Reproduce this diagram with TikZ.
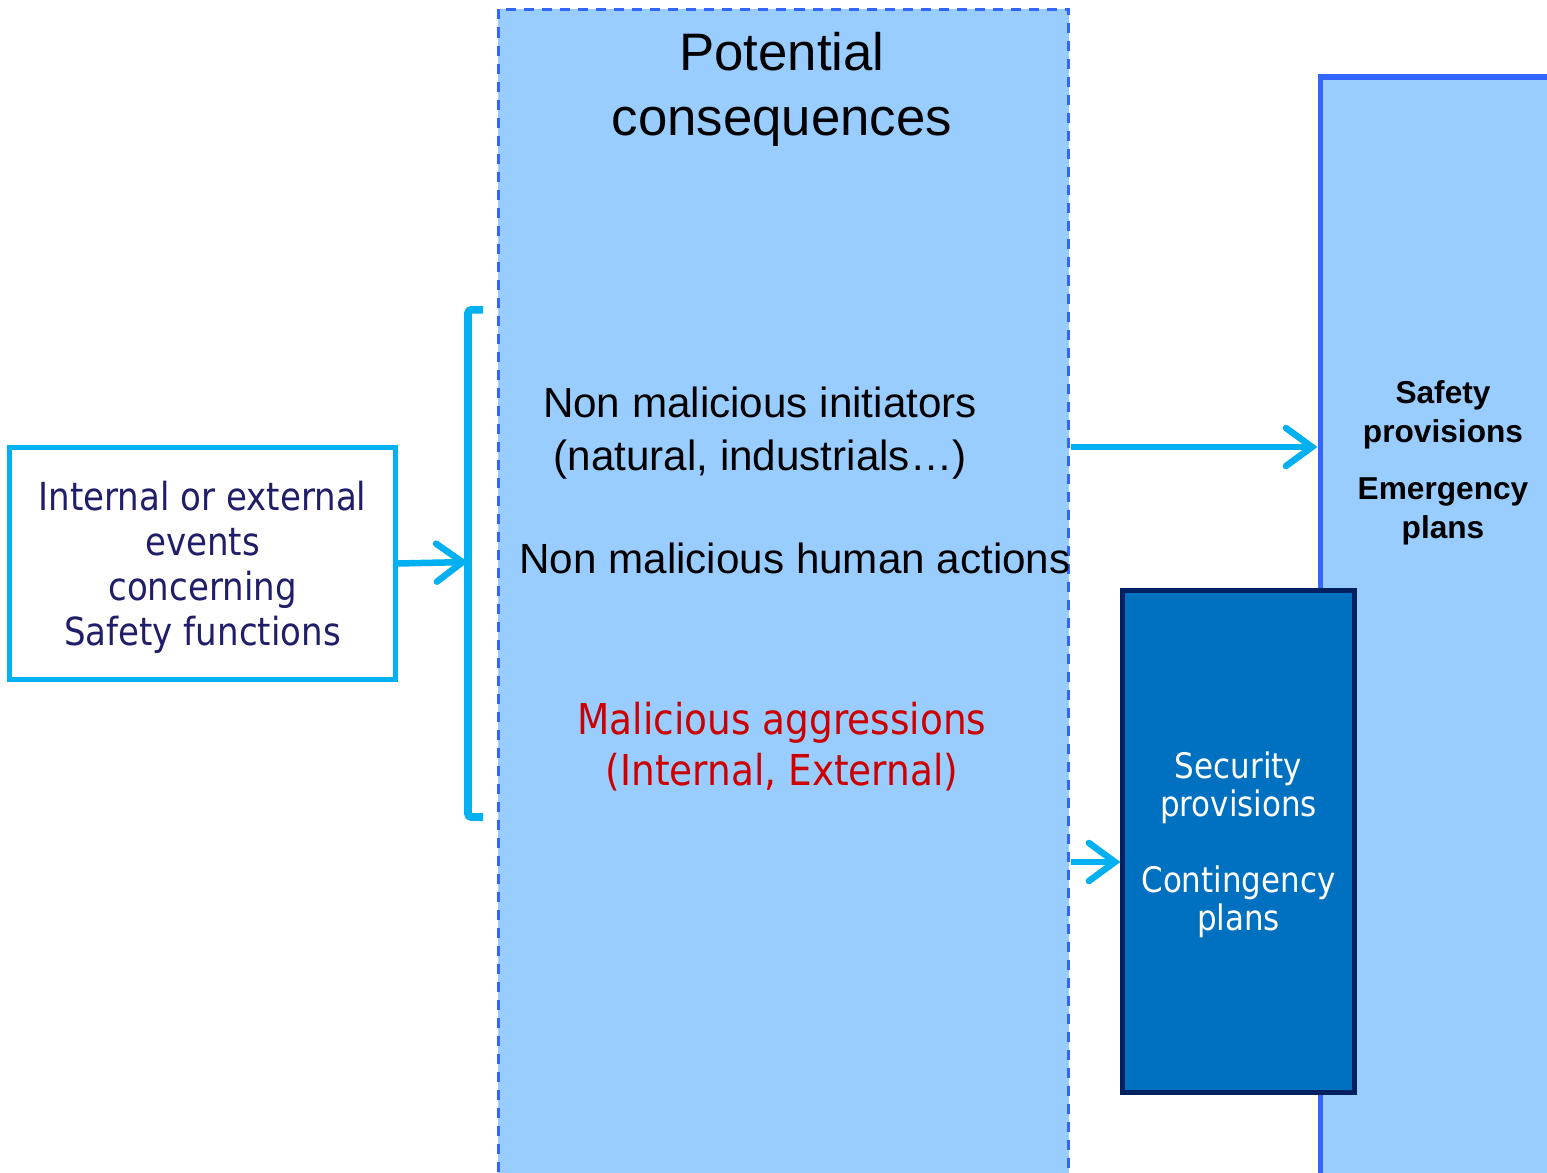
\documentclass[tikz,border=0pt]{standalone}
\usepackage{fontspec}
\setmainfont{Liberation Sans}
\newfontfamily\tahoma[FakeStretch=0.88]{DejaVu Sans}
\usetikzlibrary{arrows.meta,positioning,calc}

\definecolor{evcyan}{HTML}{00B0F0}
\definecolor{evnavy}{RGB}{32,30,104}
\definecolor{colfill}{HTML}{99CCFF}
\definecolor{colline}{HTML}{3366FF}
\definecolor{secfill}{HTML}{0070C0}
\definecolor{secline}{HTML}{002060}
\definecolor{malred}{HTML}{CC0000}

\tikzset{
  arr/.style={evcyan, line width=0.065cm, -{Straight Barb[length=0.26cm,width=0.38cm,line cap=round]}},
  evbox/.style={draw=evcyan, line width=0.05cm, fill=white, minimum width=3.85cm, minimum height=2.31cm},
  evtext/.style={align=center, text=evnavy, font=\tahoma\fontsize{11}{12.8}\selectfont},
  conscol/.style={draw=colline, fill=colfill, line width=0.028cm, dash pattern=on 0.1cm off 0.08cm,
    minimum width=5.7cm, minimum height=12cm, anchor=north west},
  safebox/.style={draw=colline, fill=colfill, line width=0.055cm, minimum width=2.6cm,
    minimum height=11.5cm, anchor=north west},
  secbox/.style={draw=secline, fill=secfill, line width=0.05cm, minimum width=2.31cm, minimum height=5.01cm},
  sectext/.style={align=center, text=white, font=\tahoma\fontsize{10}{10.8}\selectfont},
  brack/.style={evcyan, line width=0.075cm, rounded corners=0.03cm}
}

\begin{document}
\begin{tikzpicture}[x=0.01cm,y=-0.01cm]
\useasboundingbox (0,0) rectangle (1547,1173);
\clip (0,0) rectangle (1547,1173);

% columns
\node[conscol] (col) at (497,8) {};
\node[safebox] (safe) at (1317.5,74.5) {};
\node[secbox] (sec) at (1238.5,841.5) {};
\node[sectext] (sectxt) at (1238.5,845) {Security\\provisions\\[10.8pt]Contingency\\plans};

% texts in the middle column
\node[align=center, font=\fontsize{15}{18.5}\selectfont] (title) at (782,89) {Potential\\consequences};
\node[align=center, font=\fontsize{12}{15.1}\selectfont] (nonmal) at (760,433) {Non malicious initiators\\(natural, industrials…)};
\node[font=\fontsize{12}{15.1}\selectfont] (human) at (795,558) {Non malicious human actions};
\node[align=center, text=malred, font=\tahoma\fontsize{12.1}{14.5}\selectfont] (malic) at (782,747) {Malicious aggressions\\(Internal, External)};
\node[align=center, font=\bfseries\fontsize{9}{11.1}\selectfont] (safetxt) at (1443,463) {Safety\\provisions\\[5pt]Emergency\\plans};

% events and bracket
\node[evbox] (events) at (202.5,563.5) {};
\node[evtext] (evtxt) at (202.5,567) {Internal or external\\events\\concerning\\Safety functions};
\coordinate (brk) at (468,562);
\draw[brack] (483,310) -- (468,310) -- (468,817) -- (483,817);
\draw[arr] (events.east) -- (brk);

% arrows to the provisions
\coordinate (out1) at (1071,447);
\coordinate (out2) at (1071,862);
\draw[arr] (out1) -- (out1 -| safe.west);
\draw[arr] (out2) -- (out2 -| sec.west);
\end{tikzpicture}
\end{document}
